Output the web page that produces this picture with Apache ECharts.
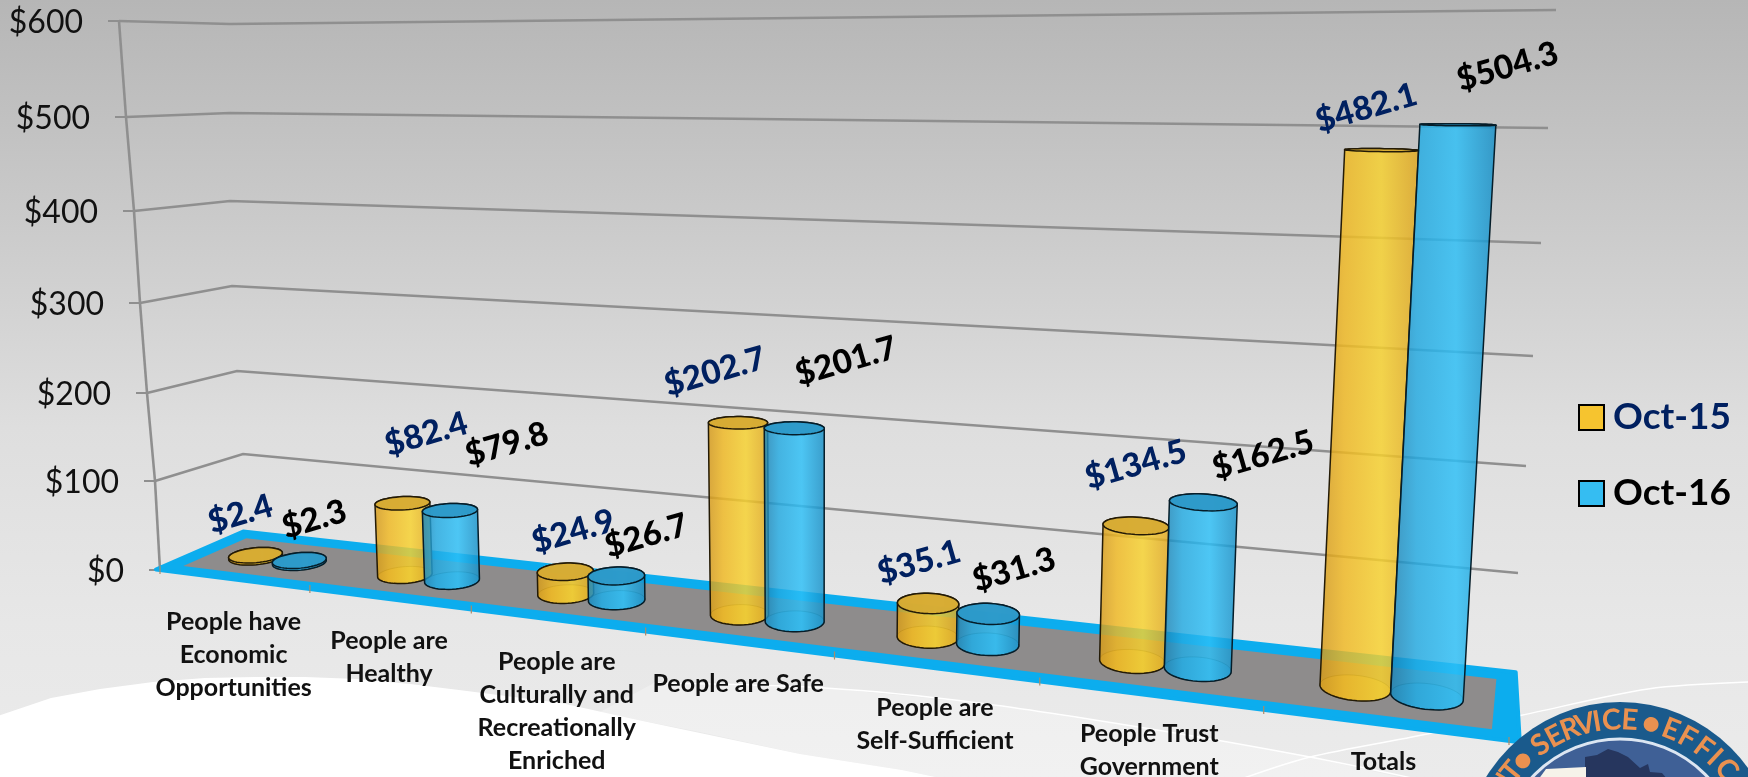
<!DOCTYPE html>
<html><head><meta charset="utf-8">
<style>html,body{margin:0;padding:0;background:#fff}#c{width:1748px;height:777px}</style>
<script src="https://cdn.jsdelivr.net/npm/echarts@6/dist/echarts.min.js"></script>
</head><body><div id="c"></div>
<script>
const categories = ['People have\nEconomic\nOpportunities','People are\nHealthy','People are\nCulturally and\nRecreationally\nEnriched','People are Safe','People are\nSelf-Sufficient','People Trust\nGovernment','Totals'];
const oct15 = [2.4, 82.4, 24.9, 202.7, 35.1, 134.5, 482.1];
const oct16 = [2.3, 79.8, 26.7, 201.7, 31.3, 162.5, 504.3];
const yTicks = [0, 100, 200, 300, 400, 500, 600];
const yTickLabels = ['$0','$100','$200','$300','$400','$500','$600'];
const seriesNames = ['Oct-15','Oct-16'];

// perspective frame: screen position of the four wall edges at each 100-step of the value axis
const frameBackLeft  = {x:[247,243,237,232,230,230,230], y:[532,454,371,286,201,113,24]};
const frameFrontLeft = {x:[160,155,147,140,134,126,119], y:[570,481,393,303,211,117,21]};
const frameBackRight = {x:[1514,1518,1526,1533,1541,1548,1556], y:[672,573,466,356,243,128,10]};
const frameFrontRight= {x:[1509,1516,1523,1530,1537,1544,1551], y:[741,628,510,387,261,134,6]};
// label placement relative to each cylinder top
const labelOffset15 = [[-15,-41],[24,-69],[8,-40],[-23,-51],[-9,-41],[0,-61],[-15,-42]];
const labelOffset16 = [[15,-41],[57,-66],[30,-40],[52,-67],[26,-44],[60,-47],[50,-58]];

const FONT = 'Lato';
const lerp=(a,b,t)=>a+(b-a)*t;
function col(t,v){const s=Math.max(0,Math.min(5.9999,v/100)),i=Math.floor(s),k=s-i;return [lerp(t.x[i],t.x[i+1],k),lerp(t.y[i],t.y[i+1],k)];}
const persp=u=>0.75*u/(1-0.25*u);
function warp(u,d,v){
  const f=persp(u),bl=col(frameBackLeft,v),br=col(frameBackRight,v),fl=col(frameFrontLeft,v),fr=col(frameFrontRight,v);
  const bx=lerp(bl[0],br[0],f),by=lerp(bl[1],br[1],f),fx=lerp(fl[0],fr[0],f),fy=lerp(fl[1],fr[1],f);
  return [lerp(bx,fx,d),lerp(by,fy,d)];
}
function unit(params,pt){const r=params.coordSys;return {u:(pt[0]-r.x)/r.width,v:600*(r.y+r.height-pt[1])/r.height};}

const palettes=[
 {stops:['rgba(212,152,24,.82)','rgba(240,184,32,.82)','rgba(248,210,44,.82)','rgba(224,166,30,.82)'],top:'rgba(214,171,52,.95)',base:'rgba(250,205,60,.40)',edge:'#231a06',label:'#002060'},
 {stops:['rgba(26,130,180,.82)','rgba(34,170,226,.82)','rgba(44,192,248,.82)','rgba(22,142,198,.82)'],top:'rgba(45,153,200,.95)',base:'rgba(60,190,240,.35)',edge:'#051d29',label:'#000000'}
];
function cylinderRenderer(idx,offsets){
  const sign=idx===0?-1:1,p=palettes[idx];
  return function(params,api){
    const cat=api.value(0),val=api.value(1);
    const top=unit(params,api.coord([cat,val])),base=unit(params,api.coord([cat,0]));
    const ru=0.0215,uc=top.u+sign*ru+0.0025*(1-Math.pow(top.u,3)),rd=0.19,N=48;
    const ring=v=>{const a=[];for(let i=0;i<N;i++){const t=i/N*2*Math.PI;a.push(warp(uc+ru*Math.cos(t),0.5+rd*Math.sin(t),v));}return a;};
    const bot=ring(base.v),tp=ring(top.v);
    const ext=r=>{let l=0,h=0;r.forEach((q,i)=>{if(q[0]<r[l][0])l=i;if(q[0]>r[h][0])h=i;});return [l,h];};
    const [bl,bh]=ext(bot),[tl,th]=ext(tp);
    const arc=(r,a,b)=>{const o=[];for(let i=a;;i=(i+1)%N){o.push(r[i]);if(i===b)break;}return o;};
    const body=arc(bot,bh,bl).concat(arc(tp,tl,th));
    const grad=new echarts.graphic.LinearGradient(0,0,1,0,[{offset:0,color:p.stops[0]},{offset:.25,color:p.stops[1]},{offset:.62,color:p.stops[2]},{offset:1,color:p.stops[3]}]);
    const c=warp(uc,0.5,top.v),off=offsets[cat];
    return {type:'group',children:[
      {type:'polygon',shape:{points:bot},style:{fill:p.base,stroke:'rgba(30,30,10,.55)',lineWidth:1}},
      {type:'polygon',shape:{points:body},style:{fill:grad,stroke:p.edge,lineWidth:1.5}},
      {type:'polygon',shape:{points:tp},style:{fill:p.top,stroke:p.edge,lineWidth:1.5}},
      {type:'text',x:c[0]+off[0],y:c[1]+off[1],rotation:16*Math.PI/180,z2:20,
        style:{text:'$'+val.toFixed(1),fill:p.label,fontFamily:FONT,fontWeight:900,fontSize:33,align:'center',verticalAlign:'middle'}}
    ]};
  };
}
function gridRenderer(params,api){
  const i=params.dataIndex,{v}=unit(params,api.coord([0,api.value(0)]));
  const fl=col(frameFrontLeft,v),bl=col(frameBackLeft,v),br=col(frameBackRight,v);
  const ch=[];
  const line='#8f8f8f';
  ch.push({type:'line',shape:{x1:fl[0]-11,y1:fl[1],x2:fl[0],y2:fl[1]},style:{stroke:line,lineWidth:2}});
  if(i>0) ch.push({type:'polyline',shape:{points:[fl,bl,br]},style:{stroke:line,lineWidth:2.6,fill:null}});
  if(i<yTicks.length-1){const n=col(frameFrontLeft,yTicks[i+1]);ch.push({type:'line',shape:{x1:fl[0],y1:fl[1],x2:n[0],y2:n[1]},style:{stroke:line,lineWidth:2.6}});}
  ch.push({type:'text',x:fl[0]-36,y:fl[1]+2,style:{text:yTickLabels[i],fill:'#111',fontFamily:FONT,fontSize:32,align:'right',verticalAlign:'middle'}});
  return {type:'group',children:ch};
}
function floorRenderer(params,api){
  const outer=[warp(-0.004,0,0),warp(1.001,0,0),warp(1.006,1,0),warp(-0.004,1,0)];
  const inner=[warp(0.011,0.13,0),warp(0.99,0.13,0),warp(0.99,0.86,0),warp(0.011,0.86,0)];
  return {type:'group',children:[
    {type:'polygon',shape:{points:outer},style:{fill:'#0cadee',stroke:'#0cadee',lineWidth:4,lineJoin:'round'}},
    {type:'polygon',shape:{points:inner},style:{fill:'#8e8c8c'}}
  ]};
}
function categoryRenderer(params,api){
  const i=api.value(0),c=unit(params,api.coord([i,0])),e=warp(c.u,1,0);
  const b=api.size([1,0])[0]/params.coordSys.width/2;
  const tick=warp(c.u+b,1,0);
  const ch=[{type:'text',x:e[0],y:e[1]+26-6*c.u*c.u,style:{text:categories[i],fill:'#111',fontFamily:FONT,fontWeight:'bold',fontSize:25,lineHeight:33,align:'center',verticalAlign:'top'}},
    {type:'line',shape:{x1:tick[0],y1:tick[1]-4,x2:tick[0],y2:tick[1]+4},style:{stroke:'#a98b6a',lineWidth:1.2}}];
  if(i===0){const t0=warp(c.u-b,1,0);ch.push({type:'line',shape:{x1:t0[0],y1:t0[1]-4,x2:t0[0],y2:t0[1]+4},style:{stroke:'#a98b6a',lineWidth:1.2}});}
  return {type:'group',children:ch};
}

// slide decoration
const cx=1620,cy=859;
const sealText=[['N',-58],['T',-51],['•',-44.7],['S',-35],['E',-28],['R',-21],['V',-14.5],['I',-9.5],['C',-3.5],['E',4],['•',13],['E',21.5],['F',29],['F',37],['I',43],['C',50]];
const decoration=[
 {type:'polygon',silent:true,z:1,shape:{points:[[654,683],[825,688],[979,703],[1157,730],[1310,757],[1412,780],[950,780],[902,770],[800,754],[700,732],[638,720],[600,712]],smooth:0},style:{fill:'rgba(255,255,255,.30)'}},
 {type:'polygon',silent:true,z:1,shape:{points:[[-2,716],[51,698],[100,689],[153,682],[205,678],[255,677],[305,677],[357,679],[410,684],[459,690],[561,703],[638,720],[800,754],[902,770],[950,780],[-2,780]]},style:{fill:'#ffffff'}},
 {type:'polyline',silent:true,z:1,shape:{points:[[654,683],[825,688],[979,703],[1157,730],[1310,757],[1412,778]],smooth:.3},style:{stroke:'#fff',lineWidth:1.3,fill:null}},
 {type:'polyline',silent:true,z:1,shape:{points:[[1244,778],[1310,757],[1412,737],[1518,716],[1648,689],[1750,682]],smooth:.3},style:{stroke:'#fff',lineWidth:1.5,fill:null}},
 {type:'circle',silent:true,z:50,shape:{cx,cy,r:157},style:{fill:'#1a5a8c'}},
 {type:'circle',silent:true,z:51,shape:{cx,cy,r:120},style:{fill:'#3f6096',stroke:'#dce6f2',lineWidth:3}},
 {type:'polygon',silent:true,z:52,shape:{points:[[1585,757],[1597,755],[1608,749],[1618,752],[1628,757],[1640,768],[1648,764],[1650,772],[1662,773],[1668,780],[1585,780]]},style:{fill:'#26365e'}},
 {type:'polygon',silent:true,z:52,shape:{points:[[1546,769],[1586,767],[1586,780],[1538,780]]},style:{fill:'#f6f3ea'}}
].concat(sealText.map(([ch,a])=>{const r=a*Math.PI/180;return {type:'text',silent:true,z:53,x:cx+139*Math.sin(r),y:cy-139*Math.cos(r),rotation:-r,
  style:{text:ch,fill:'#ea9150',fontFamily:FONT,fontWeight:'bold',fontSize:ch==='•'?34:29,align:'center',verticalAlign:'middle'}};}));

const chart=echarts.init(document.getElementById('c'),null,{renderer:'canvas',width:1748,height:777});
chart.setOption({
  animation:false,
  backgroundColor:new echarts.graphic.LinearGradient(0,0,0,1,[{offset:0,color:'#b6b6b6'},{offset:.28,color:'#cacaca'},{offset:.55,color:'#dedede'},{offset:.8,color:'#e7e7e7'},{offset:1,color:'#ebebeb'}]),
  grid:{left:0,right:0,top:0,bottom:0,show:false},
  xAxis:{type:'category',data:categories,show:false},
  yAxis:{type:'value',min:0,max:600,interval:100,show:false},
  legend:{orient:'vertical',left:1573,top:394,itemWidth:25,itemHeight:25,itemGap:39,selectedMode:false,
    data:[{name:seriesNames[0],icon:'rect',itemStyle:{color:'#f6c42f',borderColor:'#000',borderWidth:2},textStyle:{color:'#002060'}},
          {name:seriesNames[1],icon:'rect',itemStyle:{color:'#35bdf2',borderColor:'#000',borderWidth:2},textStyle:{color:'#000'}}],
    textStyle:{fontFamily:FONT,fontWeight:'bold',fontSize:37,padding:[0,0,0,4]}},
  graphic:{elements:decoration},
  series:[
    {name:'axis',type:'custom',coordinateSystem:'cartesian2d',clip:false,silent:true,z:2,renderItem:gridRenderer,encode:{x:-1,y:0},data:yTicks.map(v=>[v])},
    {name:'floor',type:'custom',coordinateSystem:'cartesian2d',clip:false,silent:true,z:3,renderItem:floorRenderer,data:[[0,0]]},
    {name:'categories',type:'custom',coordinateSystem:'cartesian2d',clip:false,silent:true,z:4,renderItem:categoryRenderer,data:categories.map((c,i)=>[i,0])},
    {name:seriesNames[0],type:'custom',coordinateSystem:'cartesian2d',clip:false,z:5,itemStyle:{color:'#f6c42f'},renderItem:cylinderRenderer(0,labelOffset15),encode:{x:0,y:1},data:oct15.map((v,i)=>[i,v])},
    {name:seriesNames[1],type:'custom',coordinateSystem:'cartesian2d',clip:false,z:6,itemStyle:{color:'#35bdf2'},renderItem:cylinderRenderer(1,labelOffset16),encode:{x:0,y:1},data:oct16.map((v,i)=>[i,v])}
  ]
});
</script></body></html>
